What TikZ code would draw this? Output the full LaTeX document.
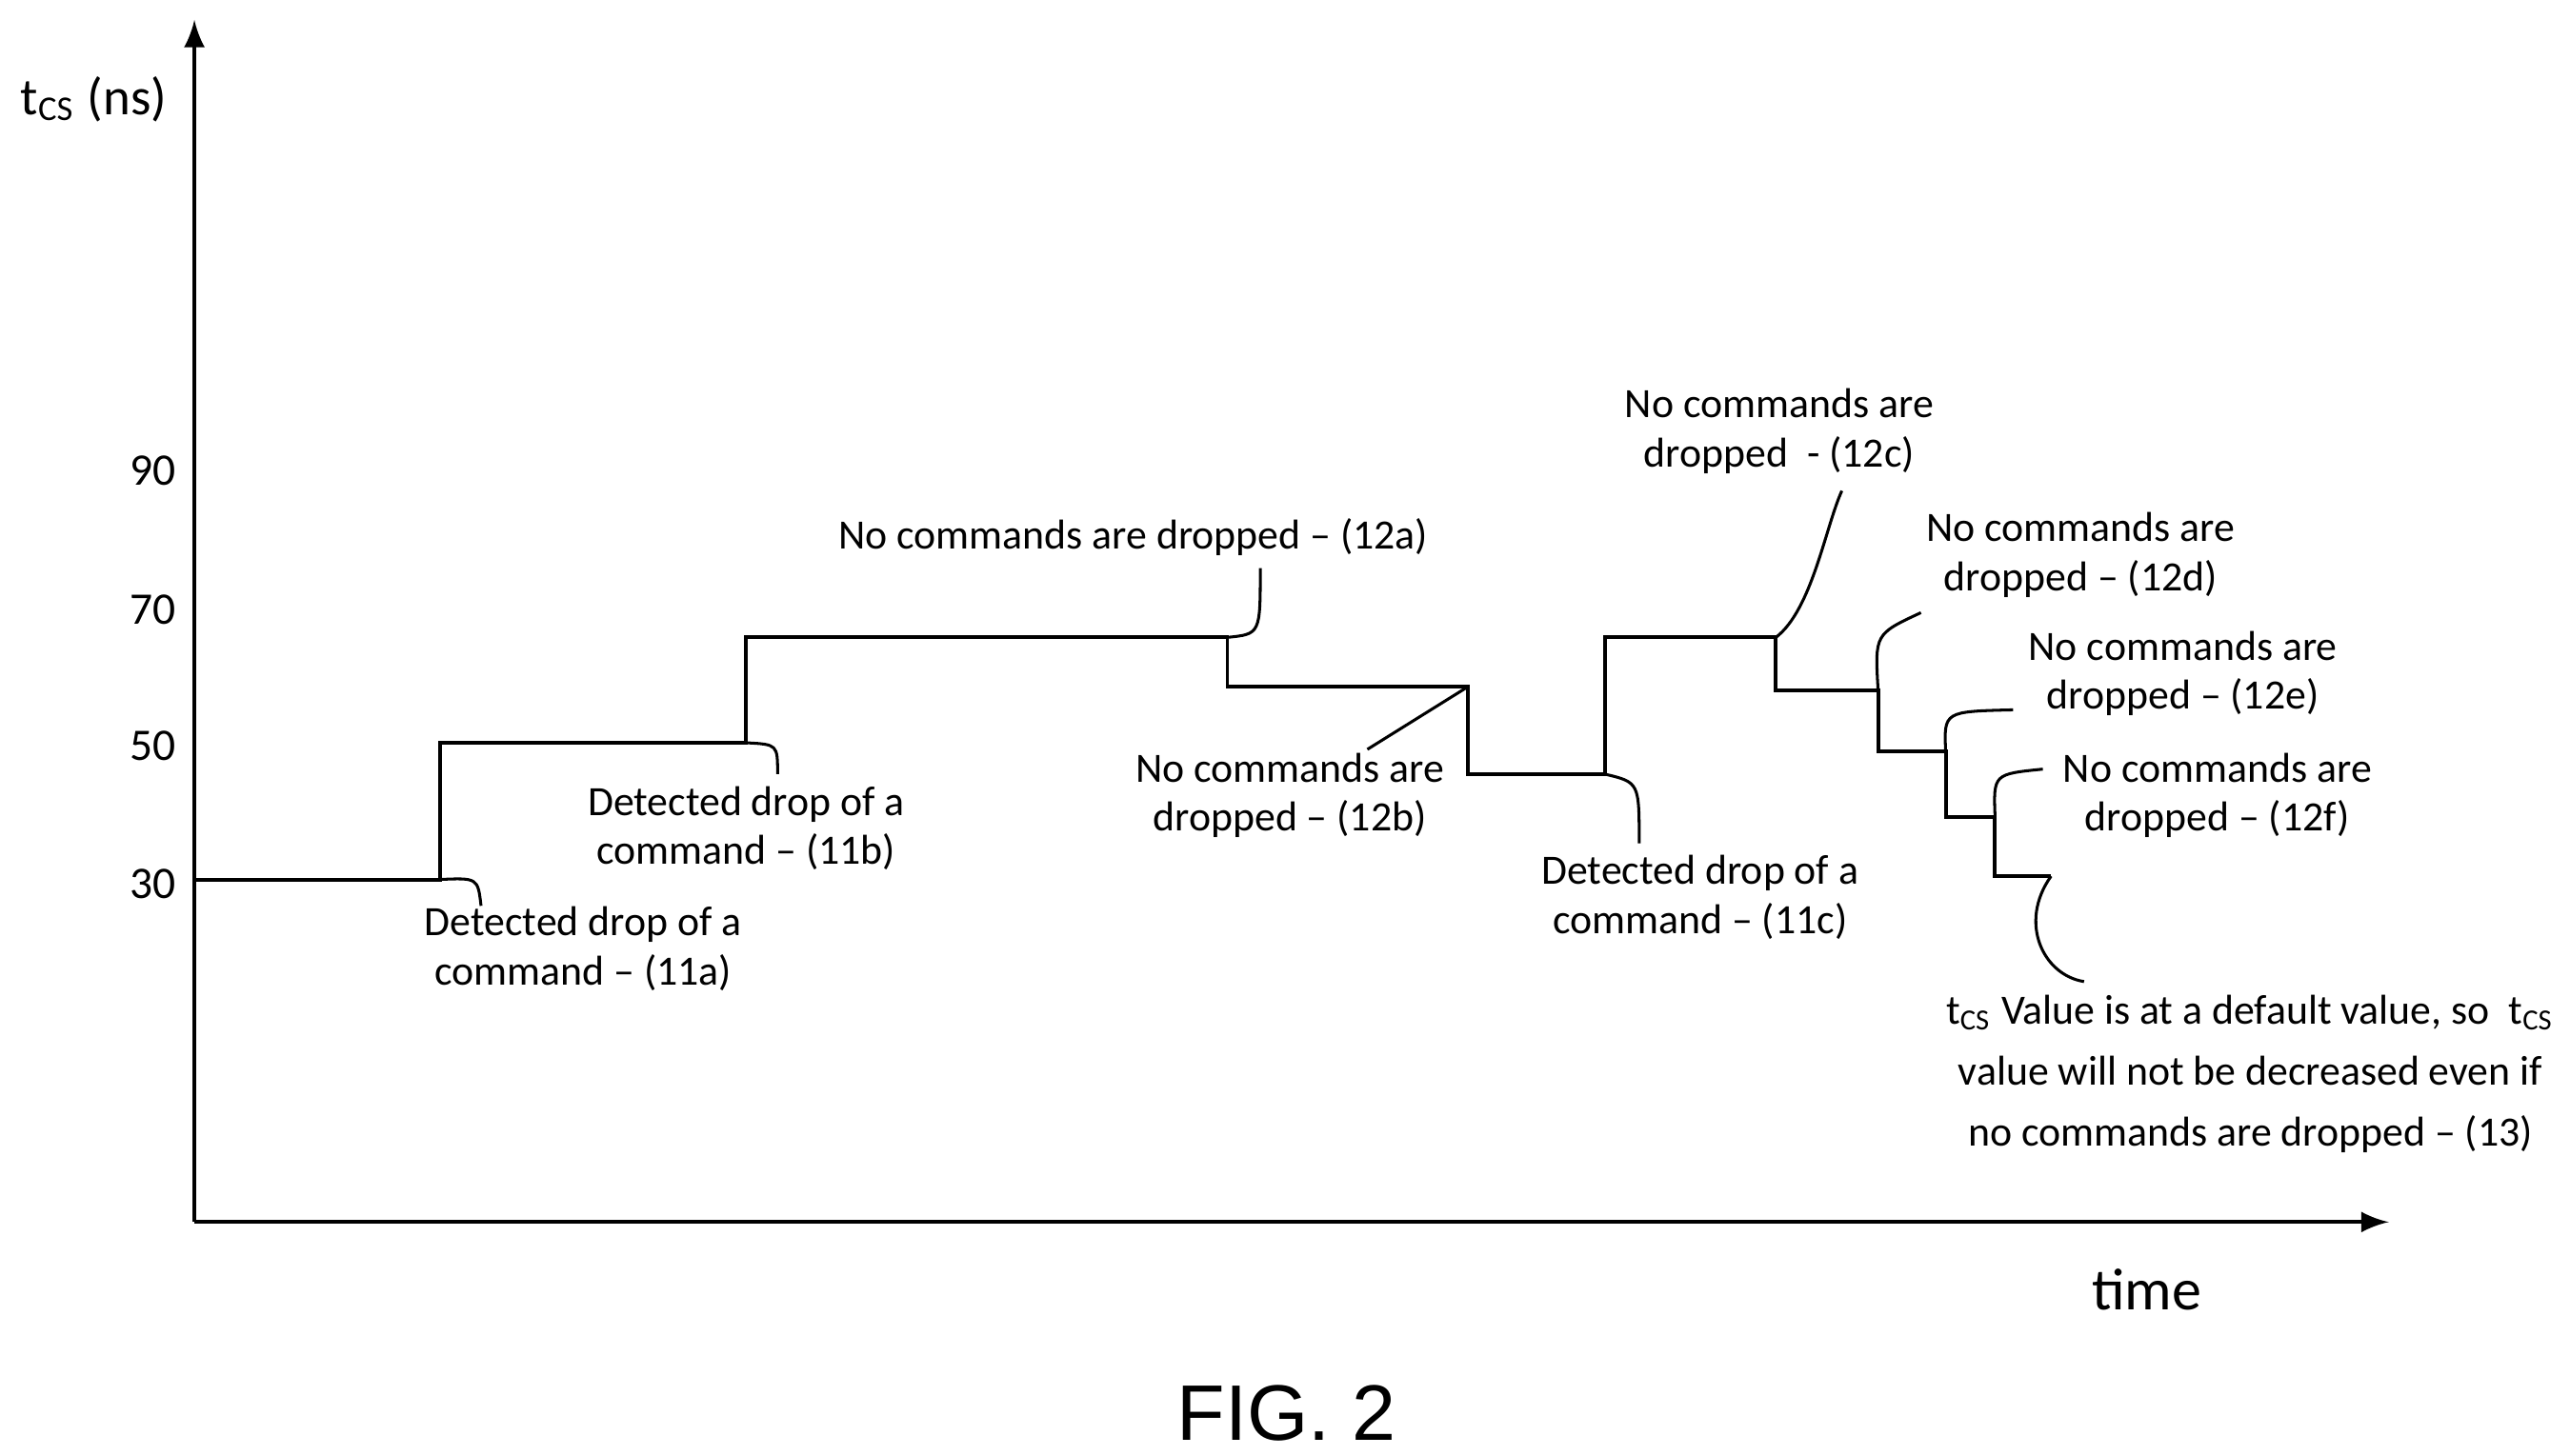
\documentclass[tikz,border=0pt]{standalone}
\usepackage{fontspec}
\setmainfont{Carlito}
\newfontfamily\figfont{Liberation Sans}
\begin{document}
\begin{tikzpicture}[x=0.01cm,y=-0.01cm,style=thick]
\tikzset{lbl/.style={align=center,font=\fontsize{7.2pt}{8.5pt}\selectfont,inner sep=0pt},
  tick/.style={font=\fontsize{7.8pt}{9pt}\selectfont,inner sep=0pt},
  lead/.style={line width=0.5pt}}
\useasboundingbox (0,0) rectangle (1560,884);
\begin{scope}[line width=0.65pt]
% axes
\coordinate (O) at (118,742);
\coordinate (Ytop) at (118,12);
\coordinate (Xend) at (1450,742);
\draw[-latex] (O) -- (Ytop);
\draw[-latex] (O) -- (Xend);
% step curve corners
\coordinate (p0) at (118,534);
\coordinate (p1) at (267,534);
\coordinate (p2) at (267,451);
\coordinate (p3) at (453,451);
\coordinate (p4) at (453,387);
\coordinate (p5) at (745,387);
\coordinate (p6) at (745,417);
\coordinate (p7) at (891,417);
\coordinate (p8) at (891,470);
\coordinate (p9) at (974,470);
\coordinate (p10) at (974,387);
\coordinate (p11) at (1078,387);
\coordinate (p12) at (1078,419);
\coordinate (p13) at (1140,419);
\coordinate (p14) at (1140,456);
\coordinate (p15) at (1181,456);
\coordinate (p16) at (1181,496);
\coordinate (p17) at (1211,496);
\coordinate (p18) at (1211,532);
\coordinate (p19) at (1245,532);
\draw (p0) -- (p1) -- (p2) -- (p3) -- (p4) -- (p5) -- (p6) -- (p7) -- (p8) -- (p9)
  -- (p10) -- (p11) -- (p12) -- (p13) -- (p14) -- (p15) -- (p16) -- (p17) -- (p18) -- (p19);
\end{scope}
% axis labels
\node[tick] (t90) at (93,286) {90};
\node[tick] (t70) at (93,370) {70};
\node[tick] (t50) at (93,453) {50};
\node[tick] (t30) at (93,537) {30};
\node[tick,font=\fontsize{9pt}{11pt}\selectfont] (ylab) at (57,60) {t\textsubscript{CS} (ns)};
\node[tick,font=\fontsize{10.2pt}{12pt}\selectfont] (xlab) at (1303,783) {time};
\node[inner sep=0pt,font=\figfont\fontsize{13.6pt}{16pt}\selectfont] (fig) at (781,858) {FIG. 2};
% callout texts
\node[lbl] (l11a) at (354,576) {Detected drop of a\\command -- (11a)};
\node[lbl] (l11b) at (453,503) {Detected drop of a\\command -- (11b)};
\node[lbl] (l12a) at (688,326) {No commands are dropped -- (12a)};
\node[lbl] (l12b) at (783,483) {No commands are\\dropped -- (12b)};
\node[lbl] (l11c) at (1032,545) {Detected drop of a\\command -- (11c)};
\node[lbl] (l12c) at (1080,262) {No commands are\\dropped\ \ - (12c)};
\node[lbl] (l12d) at (1263,337) {No commands are\\dropped -- (12d)};
\node[lbl] (l12e) at (1325,409) {No commands are\\dropped -- (12e)};
\node[lbl] (l12f) at (1346,483) {No commands are\\dropped -- (12f)};
\node[lbl,font=\fontsize{7.2pt}{10.5pt}\selectfont] (l13) at (1366,652) {t\textsubscript{CS} Value is at a default value, so\ \ t\textsubscript{CS}\\value will not be decreased even if\\no commands are dropped -- (13)};
% leaders
\coordinate (e11a) at (292,550);
\coordinate (e11b) at (472,470);
\coordinate (e12a) at (765,345);
\coordinate (e12b) at (830,455);
\coordinate (e11c) at (995,512);
\coordinate (e12c) at (1118,298);
\coordinate (e12d) at (1166,372);
\coordinate (e12e) at (1222,431);
\coordinate (e12f) at (1240,467);
\coordinate (e13) at (1265,596);
\draw[lead] (p1) .. controls (290,533) .. (e11a);
\draw[lead] (p3) .. controls (472,452) .. (e11b);
\draw[lead] (p5) .. controls (765,385) .. (e12a);
\draw[lead] (p7) -- (e12b);
\draw[lead] (p9) .. controls (995,475) .. (e11c);
\draw[lead] (p11) .. controls (1100,370) and (1108,320) .. (e12c);
\draw[lead] (p13) .. controls (1138,385) .. (e12d);
\draw[lead] (p15) .. controls (1180,432) .. (e12e);
\draw[lead] (p17) .. controls (1210,470) .. (e12f);
\draw[lead] (p19) .. controls (1225,560) and (1240,592) .. (e13);
\end{tikzpicture}
\end{document}
